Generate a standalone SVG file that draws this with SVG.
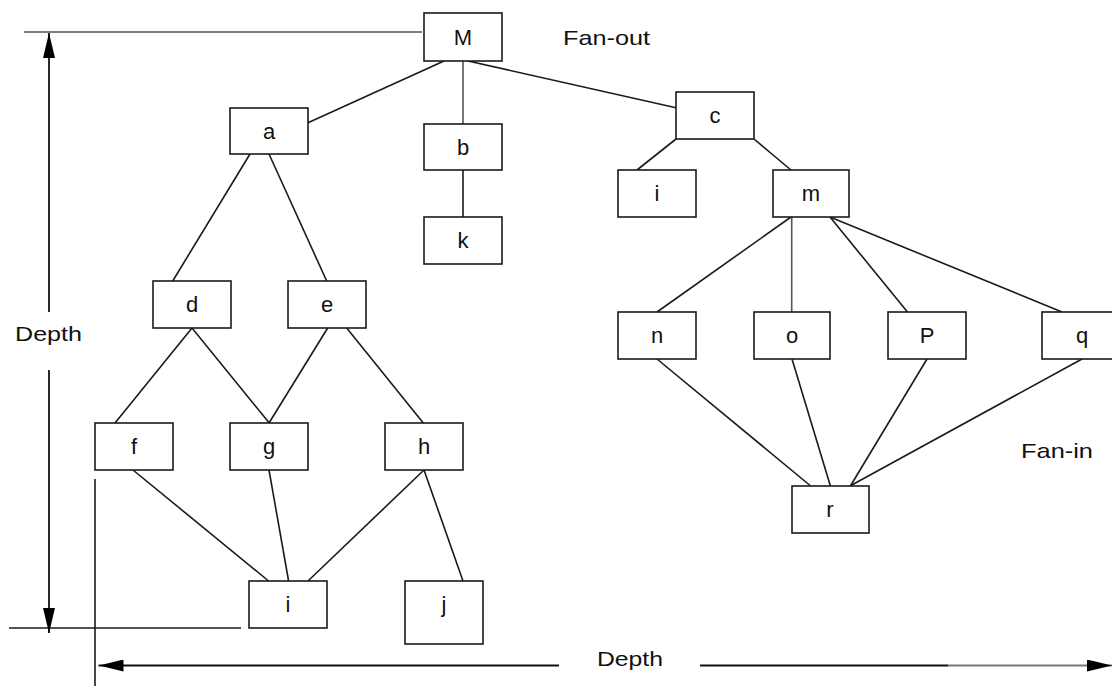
<svg xmlns="http://www.w3.org/2000/svg" width="1112" height="686" viewBox="0 0 1112 686">
<defs>
<marker id="arr" viewBox="0 0 25 12" refX="25" refY="6" markerWidth="25" markerHeight="12" markerUnits="userSpaceOnUse" orient="auto-start-reverse">
<path d="M0,0 L25,6 L0,12 Z" fill="#000"/>
</marker>
<style>
.box{fill:#fff;stroke:#1a1a1a;stroke-width:1.6}
.lbl{font-family:"Liberation Sans",Arial,sans-serif;font-size:22px;fill:#111;text-anchor:middle}
.txt{font-family:"Liberation Sans",Arial,sans-serif;font-size:21px;fill:#111}
.ln{stroke:#1a1a1a;stroke-width:1.6;fill:none}
.gr{stroke:#555;stroke-width:1.6;fill:none}
.dim{stroke:#111;stroke-width:1.8;fill:none}
</style>
</defs>
<rect width="1112" height="686" fill="#fff"/>

<g id="dimensions">
<line class="gr" x1="24" y1="32" x2="422" y2="32"/>
<line class="ln" x1="9" y1="628" x2="241" y2="628"/>
<line class="dim" x1="49" y1="312" x2="49" y2="33" marker-end="url(#arr)"/>
<line class="dim" x1="49" y1="370" x2="49" y2="633" marker-end="url(#arr)"/>
<line class="ln" x1="95" y1="479" x2="95" y2="686"/>
<line class="dim" x1="559" y1="665.5" x2="98.5" y2="665.5" marker-end="url(#arr)"/>
<line class="dim" x1="700" y1="665.5" x2="948" y2="665.5"/>
<line stroke="#777" stroke-width="1.8" x1="948" y1="665.5" x2="1112" y2="665.5" marker-end="url(#arr)"/>
<text class="txt" x="15" y="341" textLength="67" lengthAdjust="spacingAndGlyphs">Depth</text>
<text class="txt" x="597" y="666" textLength="66" lengthAdjust="spacingAndGlyphs">Depth</text>
<text class="txt" x="563" y="45" textLength="87" lengthAdjust="spacingAndGlyphs">Fan-out</text>
<text class="txt" x="1021" y="458" textLength="72" lengthAdjust="spacingAndGlyphs">Fan-in</text>
</g>

<g id="connectors">
<line class="ln" x1="444" y1="61" x2="308" y2="122.7"/>
<line class="gr" x1="463" y1="61" x2="463" y2="124"/>
<line class="ln" x1="468" y1="61" x2="676" y2="107.7"/>
<line class="ln" x1="463" y1="170" x2="463" y2="217"/>
<line class="ln" x1="250" y1="154" x2="172.7" y2="281"/>
<line class="ln" x1="269" y1="154" x2="326.7" y2="281"/>
<line class="ln" x1="676" y1="139" x2="637" y2="170"/>
<line class="ln" x1="754" y1="139" x2="791" y2="170"/>
<line class="ln" x1="791" y1="217" x2="657" y2="312"/>
<line class="gr" x1="791.7" y1="217" x2="791.7" y2="312"/>
<line class="ln" x1="830" y1="217" x2="907.5" y2="312"/>
<line class="ln" x1="830" y1="217" x2="1062" y2="312"/>
<line class="ln" x1="192" y1="328" x2="115" y2="423"/>
<line class="ln" x1="192" y1="328" x2="269.3" y2="423"/>
<line class="ln" x1="327.7" y1="328" x2="269" y2="423"/>
<line class="ln" x1="346.7" y1="328" x2="423.3" y2="423"/>
<line class="ln" x1="133" y1="470" x2="268.6" y2="581"/>
<line class="ln" x1="269" y1="470" x2="288.6" y2="581"/>
<line class="ln" x1="424" y1="470" x2="308" y2="581"/>
<line class="ln" x1="424" y1="470" x2="463" y2="581"/>
<line class="ln" x1="657" y1="359" x2="810.7" y2="486"/>
<line class="ln" x1="792" y1="359" x2="830.4" y2="486"/>
<line class="ln" x1="927" y1="359" x2="850.4" y2="486"/>
<line class="ln" x1="1082" y1="359" x2="850" y2="486"/>
</g>

<g id="node-M"><rect class="box" x="424" y="13" width="78" height="48"/><text class="lbl" x="463" y="45">M</text></g>
<g id="node-a"><rect class="box" x="230" y="108" width="78" height="46"/><text class="lbl" x="269" y="139">a</text></g>
<g id="node-b"><rect class="box" x="424" y="124" width="78" height="46"/><text class="lbl" x="463" y="155">b</text></g>
<g id="node-c"><rect class="box" x="676" y="92" width="78" height="47"/><text class="lbl" x="715" y="123">c</text></g>
<g id="node-i-top"><rect class="box" x="618" y="170" width="78" height="47"/><text class="lbl" x="657" y="201">i</text></g>
<g id="node-m"><rect class="box" x="773" y="170" width="76" height="47"/><text class="lbl" x="811" y="201">m</text></g>
<g id="node-k"><rect class="box" x="424" y="217" width="78" height="47"/><text class="lbl" x="463" y="248">k</text></g>
<g id="node-d"><rect class="box" x="153" y="281" width="78" height="47"/><text class="lbl" x="192" y="312">d</text></g>
<g id="node-e"><rect class="box" x="288" y="281" width="78" height="47"/><text class="lbl" x="327" y="312">e</text></g>
<g id="node-n"><rect class="box" x="618" y="312" width="78" height="47"/><text class="lbl" x="657" y="343">n</text></g>
<g id="node-o"><rect class="box" x="754" y="312" width="76" height="47"/><text class="lbl" x="792" y="343">o</text></g>
<g id="node-P"><rect class="box" x="888" y="312" width="78" height="47"/><text class="lbl" x="927" y="343">P</text></g>
<g id="node-q"><rect class="box" x="1042" y="312" width="78" height="47"/><text class="lbl" x="1082" y="343">q</text></g>
<g id="node-f"><rect class="box" x="95" y="423" width="78" height="47"/><text class="lbl" x="134" y="454">f</text></g>
<g id="node-g"><rect class="box" x="230" y="423" width="78" height="47"/><text class="lbl" x="269" y="454">g</text></g>
<g id="node-h"><rect class="box" x="385" y="423" width="78" height="47"/><text class="lbl" x="424" y="454">h</text></g>
<g id="node-r"><rect class="box" x="792" y="486" width="77" height="47"/><text class="lbl" x="830" y="517">r</text></g>
<g id="node-i-bottom"><rect class="box" x="249" y="581" width="78" height="47"/><text class="lbl" x="288" y="612">i</text></g>
<g id="node-j"><rect class="box" x="405" y="581" width="78" height="63"/><text class="lbl" x="444" y="612">j</text></g>
</svg>
